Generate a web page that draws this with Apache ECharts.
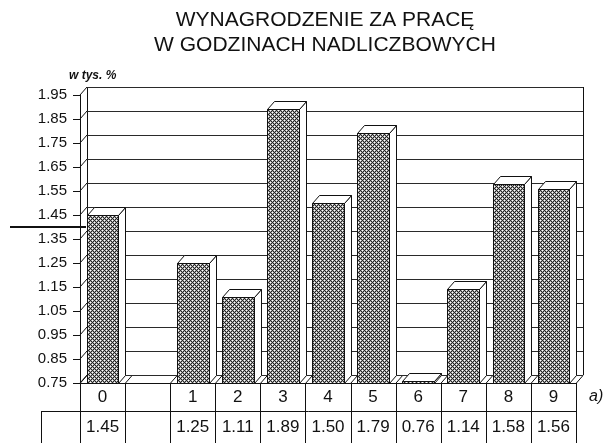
<!DOCTYPE html>
<html><head><meta charset="utf-8">
<script src="https://cdn.jsdelivr.net/npm/echarts@6/dist/echarts.min.js"></script>
<style>html,body{margin:0;padding:0;background:#fff}#c{width:612px;height:443px}</style>
</head><body><div id="c"></div>
<script>
const titleLines = ['WYNAGRODZENIE ZA PRACĘ', 'W GODZINACH NADLICZBOWYCH'];
const unitLabel = 'w tys. %';
const noteLabel = 'a)';
const categories = ['0', '', '1', '2', '3', '4', '5', '6', '7', '8', '9'];
const values = [1.45, null, 1.25, 1.11, 1.89, 1.50, 1.79, 0.76, 1.14, 1.58, 1.56];
const yTickLabels = ['0.75', '0.85', '0.95', '1.05', '1.15', '1.25', '1.35', '1.45', '1.55', '1.65', '1.75', '1.85', '1.95'];
const yMin = 0.75, yMax = 1.95;
const markerValue = 1.40;

const FONT = "'Liberation Sans', Arial, sans-serif";
const DX = 7, DY = 8;
const INK = '#111';

// crosshatch pattern
const pc = document.createElement('canvas');
pc.width = 4; pc.height = 4;
const pctx = pc.getContext('2d');
const img = pctx.createImageData(4, 4);
for (let y = 0; y < 4; y++) for (let x = 0; x < 4; x++) {
  let best = 9;
  [[0,0],[2,2],[4,0],[0,4],[4,4],[2,-2],[-2,2],[6,2],[2,6]].forEach(p => {
    const d = Math.hypot(x - p[0], y - p[1]); if (d < best) best = d;
  });
  const c = best < 0.5 ? 255 : (best < 1.2 ? 170 : 35);
  const k = (y * 4 + x) * 4;
  img.data[k] = img.data[k+1] = img.data[k+2] = c; img.data[k+3] = 255;
}
pctx.putImageData(img, 0, 0);
const pattern = { image: pc, repeat: 'repeat' };

const r = v => Math.round(v) + 0.5;
function ln(x1, y1, x2, y2, w, col) {
  return { type: 'line', shape: { x1: x1, y1: y1, x2: x2, y2: y2 }, style: { stroke: col || INK, lineWidth: w || 1 } };
}

const chart = echarts.init(document.getElementById('c'), null, { renderer: 'canvas' });
const yTicks = yTickLabels.map(Number);

chart.setOption({
  animation: false,
  backgroundColor: '#fff',
  grid: { left: 80, top: 95, width: 496, height: 288, outerBoundsMode: 'none' },
  xAxis: [{
    type: 'category', data: categories, boundaryGap: true,
    axisLine: { show: false }, axisTick: { show: false }, splitLine: { show: false },
    axisLabel: { interval: 0, fontSize: 17, color: INK, fontFamily: FONT, margin: 14, verticalAlign: 'middle' }
  }, {
    type: 'category', position: 'bottom', offset: 30, boundaryGap: true,
    data: values.map(v => v == null ? '' : v.toFixed(2)),
    axisLine: { show: false }, axisTick: { show: false }, splitLine: { show: false },
    axisLabel: { interval: 0, fontSize: 17, color: INK, fontFamily: FONT, margin: 14, verticalAlign: 'middle' }
  }],
  yAxis: {
    type: 'value', min: yMin, max: yMax, interval: 0.05,
    axisLine: { show: false }, axisTick: { show: false }, splitLine: { show: false },
    axisLabel: {
      fontSize: 15, color: INK, fontFamily: FONT, margin: 13,
      formatter: v => { const s = v.toFixed(2); return yTickLabels.indexOf(s) >= 0 ? s : ''; }
    }
  },
  graphic: [
    { type: 'text', x: 325, y: 8, style: { text: titleLines.join('\n'), font: "21px " + FONT, fill: INK, textAlign: 'center', lineHeight: 25 } },
    { type: 'text', x: 69, y: 70, style: { text: unitLabel, font: "italic bold 12px " + FONT, fill: INK } },
    { type: 'text', x: 589, y: 389, style: { text: noteLabel, font: "italic 16px " + FONT, fill: INK } }
  ],
  series: [
    { // frame: walls, floor, table
      type: 'custom', coordinateSystem: 'cartesian2d', silent: true, z: 1,
      data: [[0, yMin]],
      renderItem: function (params, api) {
        const cs = params.coordSys;
        const x0 = cs.x, x1 = cs.x + cs.width, yt = cs.y, yb = cs.y + cs.height;
        const bw = api.size([1, 0])[0];
        const els = [
          ln(r(x0), yt, r(x0), yb),
          ln(r(x0 + DX), yt - DY, r(x0 + DX), yb - DY),
          ln(r(x1 + DX), yt - DY, r(x1 + DX), yb - DY),
          ln(x1, r(yb), x1 + DX, r(yb - DY)),
          ln(x0, r(yb), x1, r(yb)),
          ln(x0 + DX, r(yb - DY), x1 + DX, r(yb - DY)),
          // table
          ln(41, r(411), x1, r(411)),
          ln(r(41), 411, r(41), 445)
        ];
        for (let i = 0; i <= categories.length; i++) {
          const bx = x0 + i * bw;
          els.push(ln(r(bx), yb, r(bx), 445));
          if (i < categories.length) els.push(ln(bx, r(yb), bx + DX, r(yb - DY)));
        }
        return { type: 'group', children: els };
      }
    },
    { // back-wall gridlines and 3D ticks
      type: 'custom', coordinateSystem: 'cartesian2d', silent: true, z: 2,
      data: yTicks.map(v => [0, v]),
      renderItem: function (params, api) {
        const cs = params.coordSys;
        const y = api.coord([0, api.value(1)])[1];
        return { type: 'group', children: [
          ln(cs.x + DX, r(y - DY), cs.x + cs.width + DX, r(y - DY), 1, '#2a2a2a'),
          ln(cs.x, y, cs.x + DX, y - DY),
          ln(cs.x - 7, r(y), cs.x, r(y))
        ] };
      }
    },
    { // 3D bars
      type: 'custom', coordinateSystem: 'cartesian2d', silent: true, z: 3,
      data: values.map((v, i) => [i, v == null ? NaN : v]),
      renderItem: function (params, api) {
        const v = api.value(1);
        if (isNaN(v)) return null;
        const i = api.value(0);
        const top = api.coord([i, v]);
        const base = api.coord([i, yMin]);
        const bw = api.size([1, 0])[0] * 0.70;
        const xl = Math.round(top[0] - bw / 2) + 0.5, xr = Math.round(top[0] + bw / 2) + 0.5;
        const yt = Math.round(top[1]) + 0.5, yb = Math.round(base[1]) + 0.5;
        const stroke = { stroke: INK, lineWidth: 1 };
        return { type: 'group', children: [
          { type: 'polygon', shape: { points: [[xr, yt], [xr + DX, yt - DY], [xr + DX, yb - DY], [xr, yb]] }, style: Object.assign({ fill: '#fff' }, stroke) },
          { type: 'polygon', shape: { points: [[xl, yt], [xl + DX, yt - DY], [xr + DX, yt - DY], [xr, yt]] }, style: Object.assign({ fill: '#fff' }, stroke) },
          { type: 'rect', shape: { x: xl, y: yt, width: xr - xl, height: yb - yt }, style: Object.assign({ fill: pattern }, stroke) }
        ] };
      }
    },
    { // reference marker line
      type: 'custom', coordinateSystem: 'cartesian2d', silent: true, z: 4,
      data: [[0, markerValue]],
      renderItem: function (params, api) {
        const cs = params.coordSys;
        const y = api.coord([0, api.value(1)])[1];
        return ln(10, y, cs.x + 6, y, 2.2, '#111');
      }
    }
  ]
});
</script></body></html>
